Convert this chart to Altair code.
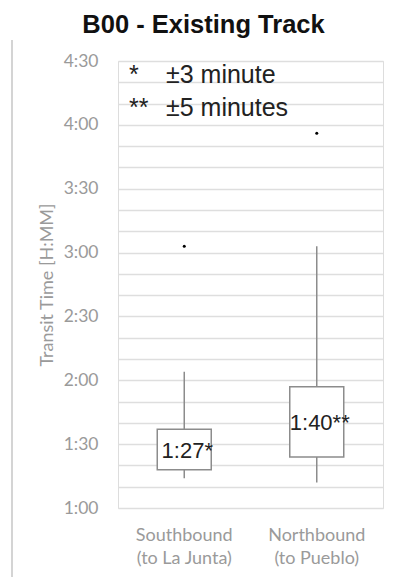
import altair as alt
import pandas as pd

# ---- data (minutes) ----
categories = ["Southbound|(to La Junta)", "Northbound|(to Pueblo)"]
whisker_low = [74, 72]
q1 = [78, 84]
q3 = [97, 117]
whisker_high = [124, 183]
median = [87, 100]
median_labels = ["1:27*", "1:40**"]
outliers = [183, 236]

legend_marks = ["*", "**"]
legend_texts = ["\u00b13 minute", "\u00b15 minutes"]
legend_y = [263.5, 248]

df = pd.DataFrame(dict(cat=categories, lo=whisker_low, q1=q1, q3=q3,
                       hi=whisker_high, med=median, lab=median_labels,
                       out=outliers))
leg = pd.DataFrame(dict(mark=legend_marks, txt=legend_texts, ly=legend_y))

FONT = "Lato"
GRAY = "#8c8c8c"
LBL = "#9a9a9a"

yscale = alt.Scale(domain=[60, 270], nice=False, zero=False)
yaxis = alt.Axis(
    values=list(range(60, 271, 10)),
    labelExpr="datum.value % 30 == 0 ? floor(datum.value/60) + ':' + (datum.value % 60 < 10 ? '0' : '') + (datum.value % 60) : ''",
    title="Transit Time [H:MM]",
    titleFont=FONT, titleFontSize=18, titleFontWeight="normal", titleColor=LBL,
    titlePadding=7,
    labelFont=FONT, labelFontSize=17.5, labelColor=LBL, labelPadding=20,
    ticks=False, domain=False, grid=True, gridColor="#dedede", gridWidth=1.5,
)
xscale = alt.Scale(domain=categories, paddingInner=0, paddingOuter=0)
xaxis = alt.Axis(
    title=None, labelExpr="split(datum.value, '|')", labelAngle=0,
    labelFont=FONT, labelFontSize=18, labelColor=LBL,
    labelPadding=18, labelLineHeight=23, ticks=False, domain=False,
)
X = alt.X("cat:N", scale=xscale, axis=xaxis, sort=categories)

base = alt.Chart(df)

whisk_lo = base.mark_rule(color=GRAY, strokeWidth=1.5).encode(
    x=X, y=alt.Y("lo:Q", scale=yscale, axis=yaxis), y2="q1:Q")
whisk_hi = base.mark_rule(color=GRAY, strokeWidth=1.5).encode(
    x=X, y=alt.Y("q3:Q", scale=yscale, axis=yaxis), y2="hi:Q")
box = base.mark_bar(fill="white", stroke=GRAY, strokeWidth=1.5, size=54).encode(
    x=X, y=alt.Y("q1:Q", scale=yscale, axis=yaxis), y2="q3:Q")
outl = base.mark_circle(color="black", size=9, opacity=1).encode(
    x=X, y=alt.Y("out:Q", scale=yscale, axis=yaxis))
medtxt = base.mark_text(fontSize=22, color="#222222", font="Liberation Sans", dx=3).encode(
    x=X, y=alt.Y("med:Q", scale=yscale, axis=yaxis), text="lab:N")

legbase = alt.Chart(leg)
leg_marks = legbase.mark_text(fontSize=25, color="#222222", font="Liberation Sans",
                              align="left").encode(
    x=alt.value(11), y=alt.Y("ly:Q", scale=yscale, axis=yaxis), text="mark:N")
leg_txt = legbase.mark_text(fontSize=25, color="#222222", font="Liberation Sans",
                            align="left").encode(
    x=alt.value(48), y=alt.Y("ly:Q", scale=yscale, axis=yaxis), text="txt:N")

border = alt.Chart(pd.DataFrame({"a": [0]})).mark_rule(
    color="#d4d4d4", strokeWidth=2).encode(
    x=alt.value(-106), y=alt.value(-21), y2=alt.value(516))

chart = alt.layer(border, whisk_lo, whisk_hi, box, outl, medtxt, leg_marks, leg_txt).properties(
    width=265, height=447,
    autosize=alt.AutoSizeParams(type="none"),
    padding={"left": 118, "top": 61, "right": 14, "bottom": 69},
    title=alt.TitleParams("B00 - Existing Track", font="Liberation Sans", fontSize=25.5,
                          fontWeight="bold", color="#111111", anchor="middle",
                          frame="group", dx=-47, offset=1),
).configure_view(stroke=None).configure(background="white")

chart.save("out.html", embed_options={"renderer": "svg", "actions": False})
